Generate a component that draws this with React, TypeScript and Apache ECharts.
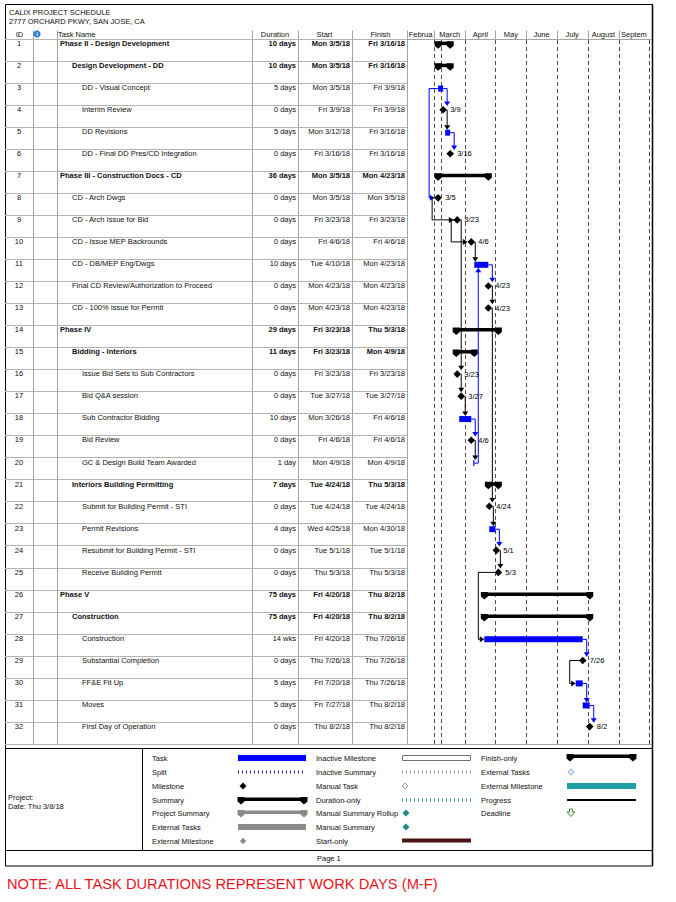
import React, { useEffect, useRef } from 'react';
import * as echarts from 'echarts';

const FONT = '"Liberation Sans", Arial, Helvetica, sans-serif';
const BLUE = '#0000ff';

// ---------- data ----------
const taskIds = [1, 2, 3, 4, 5, 6, 7, 8, 9, 10, 11, 12, 13, 14, 15, 16, 17, 18, 19, 20, 21, 22, 23, 24, 25, 26, 27, 28, 29, 30, 31, 32];
const taskNames = [
  'Phase II - Design Development',
  'Design Development - DD',
  'DD - Visual Concept',
  'Interim Review',
  'DD Revisions',
  'DD - Final DD Pres/CD Integration',
  'Phase III - Construction Docs - CD',
  'CD - Arch Dwgs',
  'CD - Arch Issue for Bid',
  'CD - Issue MEP Backrounds',
  'CD - DB/MEP Eng/Dwgs',
  'Final CD Review/Authorization to Proceed',
  'CD - 100% Issue for Permit',
  'Phase IV',
  'Bidding - Interiors',
  'Issue Bid Sets to Sub Contractors',
  'Bid Q&A session',
  'Sub Contractor Bidding',
  'Bid Review',
  'GC & Design Build Team Awarded',
  'Interiors Building Permitting',
  'Submit for Building Permit - STI',
  'Permit Revisions',
  'Resubmit for Building Permit - STI',
  'Receive Building Permit',
  'Phase V',
  'Construction',
  'Construction',
  'Substantial Completion',
  'FF&E Fit Up',
  'Moves',
  'First Day of Operation',
];
const durations = ['10 days', '10 days', '5 days', '0 days', '5 days', '0 days', '36 days', '0 days', '0 days', '0 days', '10 days', '0 days', '0 days', '29 days', '11 days', '0 days', '0 days', '10 days', '0 days', '1 day', '7 days', '0 days', '4 days', '0 days', '0 days', '75 days', '75 days', '14 wks', '0 days', '5 days', '5 days', '0 days'];
const starts = ['Mon 3/5/18', 'Mon 3/5/18', 'Mon 3/5/18', 'Fri 3/9/18', 'Mon 3/12/18', 'Fri 3/16/18', 'Mon 3/5/18', 'Mon 3/5/18', 'Fri 3/23/18', 'Fri 4/6/18', 'Tue 4/10/18', 'Mon 4/23/18', 'Mon 4/23/18', 'Fri 3/23/18', 'Fri 3/23/18', 'Fri 3/23/18', 'Tue 3/27/18', 'Mon 3/26/18', 'Fri 4/6/18', 'Mon 4/9/18', 'Tue 4/24/18', 'Tue 4/24/18', 'Wed 4/25/18', 'Tue 5/1/18', 'Thu 5/3/18', 'Fri 4/20/18', 'Fri 4/20/18', 'Fri 4/20/18', 'Thu 7/26/18', 'Fri 7/20/18', 'Fri 7/27/18', 'Thu 8/2/18'];
const finishes = ['Fri 3/16/18', 'Fri 3/16/18', 'Fri 3/9/18', 'Fri 3/9/18', 'Fri 3/16/18', 'Fri 3/16/18', 'Mon 4/23/18', 'Mon 3/5/18', 'Fri 3/23/18', 'Fri 4/6/18', 'Mon 4/23/18', 'Mon 4/23/18', 'Mon 4/23/18', 'Thu 5/3/18', 'Mon 4/9/18', 'Fri 3/23/18', 'Tue 3/27/18', 'Fri 4/6/18', 'Fri 4/6/18', 'Mon 4/9/18', 'Thu 5/3/18', 'Tue 4/24/18', 'Mon 4/30/18', 'Tue 5/1/18', 'Thu 5/3/18', 'Thu 8/2/18', 'Thu 8/2/18', 'Thu 7/26/18', 'Thu 7/26/18', 'Thu 7/26/18', 'Thu 8/2/18', 'Thu 8/2/18'];
const levels = [0, 1, 2, 2, 2, 2, 0, 1, 1, 1, 1, 1, 1, 0, 1, 2, 2, 2, 2, 2, 1, 2, 2, 2, 2, 0, 1, 2, 2, 2, 2, 2];
// S = summary, T = task, M = milestone
const kinds = ['S', 'S', 'T', 'M', 'T', 'M', 'S', 'M', 'M', 'M', 'T', 'M', 'M', 'S', 'S', 'M', 'M', 'T', 'M', 'T', 'S', 'M', 'T', 'M', 'M', 'S', 'S', 'T', 'M', 'T', 'T', 'M'];
const startMilestones = [8];

// dependency links: [from, to, route, critical]
const links: [number, number, string, boolean][] = [
  [3, 4, 'fs', true], [4, 5, 'fs', false], [5, 6, 'fs', true], [3, 8, 'ss', true],
  [8, 9, 'back', false], [9, 10, 'back', false], [9, 16, 'fs', false], [16, 17, 'fs', false],
  [17, 18, 'fs', false], [18, 19, 'fs', true], [19, 20, 'fs', false], [20, 11, 'up', true],
  [10, 11, 'fs', false], [11, 12, 'fs', true], [12, 13, 'fs', false], [13, 22, 'fs', false],
  [22, 23, 'fs', false], [23, 24, 'fs', true], [24, 25, 'fs', false], [25, 28, 'back', false],
  [28, 29, 'fs', true], [29, 30, 'back', false], [30, 31, 'fs', true], [31, 32, 'fs', true],
];

const monthNames = ['February', 'March', 'April', 'May', 'June', 'July', 'August', 'September'];
const monthStarts = ['2/1/18', '3/1/18', '4/1/18', '5/1/18', '6/1/18', '7/1/18', '8/1/18', '9/1/18', '10/1/18'];
const statusDate = '3/8/18';
const timelineMin = '2/2/18';
const timelineMax = '10/4/18';

const legendCol1 = ['Task', 'Split', 'Milestone', 'Summary', 'Project Summary', 'External Tasks', 'External Milestone'];
const legendCol2 = ['Inactive Milestone', 'Inactive Summary', 'Manual Task', 'Duration-only', 'Manual Summary Rollup', 'Manual Summary', 'Start-only'];
const legendCol3 = ['Finish-only', 'External Tasks', 'External Milestone', 'Progress', 'Deadline'];

// ---------- helpers ----------
const parseDay = (s: string) => {
  const parts = s.trim().split(' ');
  const [m, d, y] = parts[parts.length - 1].split('/').map(Number);
  return (Date.UTC(2000 + y, m - 1, d) - Date.UTC(2018, 2, 1)) / 86400000;
};
const startDay = starts.map(parseDay);
const endDay = finishes.map((f) => parseDay(f) + 1);
const msDay = taskIds.map((id, i) => (startMilestones.includes(id) ? startDay[i] : endDay[i]));
const msLabel = finishes.map((f) => f.split(' ')[1].split('/').slice(0, 2).join('/'));
const X_MIN = parseDay(timelineMin);
const X_MAX = parseDay(timelineMax);
const monthDays = monthStarts.map(parseDay);
const gridLineDays = [...monthDays.filter((d) => d > X_MIN && d < X_MAX), parseDay(statusDate)];

const ROW_TEXT = 0.2;
const ROW_MID = 0.21;
const ROW_BAR = 0.25;

const txt = (x: number, y: number, text: string, o: any = {}) => ({
  type: 'text',
  x,
  y,
  silent: true,
  style: {
    text,
    fill: o.fill || '#101010',
    fontSize: o.size || 7.5,
    fontFamily: FONT,
    fontWeight: o.bold ? 'bold' : 'normal',
    align: o.align || 'left',
    verticalAlign: 'middle',
  },
});
const line = (x1: number, y1: number, x2: number, y2: number, stroke = '#a4a4a4', w = 1, dash?: number[]) => ({
  type: 'line',
  silent: true,
  shape: { x1, y1, x2, y2 },
  style: { stroke, lineWidth: w, lineDash: dash },
});
const diamond = (x: number, y: number, r: number, fill: string, stroke?: string) => ({
  type: 'polygon',
  silent: true,
  shape: { points: [[x, y - r], [x + r, y], [x, y + r], [x - r, y]] },
  style: { fill, stroke: stroke || null, lineWidth: 1 },
});
const cap = (x: number, yc: number, fill: string) => ({
  type: 'polygon',
  silent: true,
  shape: { points: [[x - 3.5, yc - 2.5], [x + 3.5, yc - 2.5], [x + 3.5, yc + 2], [x, yc + 5], [x - 3.5, yc + 2]] },
  style: { fill },
});
const summaryBar = (x1: number, x2: number, yc: number, fill: string) => [
  { type: 'rect', silent: true, shape: { x: x1, y: yc - 2, width: x2 - x1, height: 3.5 }, style: { fill } },
  cap(x1, yc, fill),
  cap(x2, yc, fill),
];

function buildOption() {
  const tableRender = (params: any, api: any) => {
    const i = params.dataIndex;
    const y = api.coord([0, i + ROW_TEXT])[1];
    const X = (v: number) => api.coord([v, 0])[0];
    const bold = kinds[i] === 'S';
    const indent = [55, 67, 77][levels[i]];
    return {
      type: 'group',
      children: [
        txt(X(14), y, String(taskIds[i]), { align: 'center' }),
        txt(X(indent), y, taskNames[i], { bold }),
        txt(X(291), y, durations[i], { bold, align: 'right' }),
        txt(X(345), y, starts[i], { bold, align: 'right' }),
        txt(X(400), y, finishes[i], { bold, align: 'right' }),
      ],
    };
  };

  const geo = (api: any, i: number) => {
    const k = kinds[i];
    const yc = api.coord([0, i + ROW_MID])[1];
    const yb = api.coord([0, i + ROW_BAR])[1];
    const xs = api.coord([startDay[i], 0])[0];
    const xe = api.coord([endDay[i], 0])[0];
    const xm = api.coord([msDay[i], 0])[0];
    if (k === 'M') return { k, cy: yc, left: xm - 3.8, right: xm + 3.8, anchor: xm, start: xm, end: xm, top: yc - 3.8, bottom: yc + 3.8 };
    if (k === 'T') return { k, cy: yb, left: xs, right: xe, anchor: xe, start: xs, end: xe, top: yb - 3, bottom: yb + 3 };
    return { k, cy: yc, left: xs, right: xe, anchor: xe, start: xs, end: xe, top: yc - 2.5, bottom: yc + 5 };
  };

  const taskRender = (params: any, api: any) => {
    const i = params.dataIndex;
    const g = geo(api, i);
    const children: any[] = [];
    if (g.k === 'T') {
      children.push({ type: 'rect', shape: { x: g.left, y: g.cy - 3, width: Math.max(g.right - g.left, 1.2), height: 6 }, style: { fill: BLUE } });
    } else if (g.k === 'S') {
      children.push(...summaryBar(g.left, g.right, g.cy, '#000'));
    } else {
      children.push(diamond(g.anchor, g.cy, 3.8, '#000'));
      children.push(txt(g.anchor + 7, g.cy, msLabel[i], { fill: '#000' }));
    }
    return { type: 'group', children };
  };

  const linkRender = (params: any, api: any) => {
    const [a, b, route, crit] = links[params.dataIndex];
    const p = geo(api, a - 1);
    const s = geo(api, b - 1);
    const color = crit ? BLUE : '#000';
    let pts: number[][] = [];
    let arrow: number[][] = [];
    if (route === 'fs') {
      const xv = p.anchor + 4;
      pts = [[p.right, p.cy], [xv, p.cy], [xv, s.top - 4]];
      arrow = [[xv - 3, s.top - 4.5], [xv + 3, s.top - 4.5], [xv, s.top]];
    } else if (route === 'up') {
      const xv = p.anchor + 4;
      pts = [[p.right, p.cy], [xv, p.cy], [xv, s.bottom + 4]];
      arrow = [[xv - 3, s.bottom + 4.5], [xv + 3, s.bottom + 4.5], [xv, s.bottom]];
    } else {
      const x0 = route === 'ss' ? p.start : p.anchor;
      const xl = route === 'ss' ? x0 - 9 : Math.min(x0, s.start) - 6;
      pts = [[x0, p.cy], [xl, p.cy], [xl, s.cy], [s.left - 4, s.cy]];
      arrow = [[s.left - 4.5, s.cy - 3], [s.left - 4.5, s.cy + 3], [s.left, s.cy]];
    }
    return {
      type: 'group',
      children: [
        { type: 'polyline', shape: { points: pts }, style: { stroke: color, lineWidth: 1, fill: null } },
        { type: 'polygon', shape: { points: arrow }, style: { fill: color } },
      ],
    };
  };

  const gridLineRender = (params: any, api: any) => {
    const d = api.value(0);
    const x = Math.round(api.coord([d, 0])[0]) + 0.5;
    const y1 = api.coord([d, 0])[1];
    const y2 = api.coord([d, 32])[1];
    return line(x, y1 + 1, x, y2, '#505050', 1, [4, 3]);
  };

  const monthRender = (params: any, api: any) => {
    const i = params.dataIndex;
    const s0 = api.value(0);
    const s = Math.max(s0, X_MIN);
    const e = Math.min(api.value(1), X_MAX);
    const x1 = api.coord([s, 0])[0];
    const x2 = api.coord([e, 0])[0];
    const top = api.coord([s, 0])[1];
    const children: any[] = [
      {
        type: 'text',
        x: (x1 + x2) / 2,
        y: top - 4.5,
        style: {
          text: monthNames[i],
          width: x2 - x1,
          overflow: 'truncate',
          ellipsis: '',
          fill: '#101010',
          fontSize: 7.5,
          fontFamily: FONT,
          align: 'center',
          verticalAlign: 'middle',
        },
      },
    ];
    if (s0 > X_MIN) {
      const xx = Math.round(x1) + 0.5;
      children.push(line(xx, top - 8.5, xx, top, '#a4a4a4'));
    }
    return { type: 'group', children };
  };

  // ---------- static frame, header, legend ----------
  const g: any[] = [];
  g.push({ type: 'rect', silent: true, shape: { x: 5.5, y: 4.5, width: 647, height: 861.5 }, style: { fill: 'none', stroke: '#000', lineWidth: 1 } });
  g.push(line(652.5, 4.5, 652.5, 866, '#000', 1.5));
  g.push(txt(9, 12.5, 'CALIX PROJECT SCHEDULE'));
  g.push(txt(9, 21, '2777 ORCHARD PKWY, SAN JOSE, CA'));
  [33.5, 57.5, 252.5, 298.5, 352.5, 407.5].forEach((x) => g.push(line(x, 30.5, x, 744.5)));
  g.push(line(407, 39.5, 652, 39.5));
  g.push(line(407, 744.5, 652, 744.5));
  g.push(txt(19.5, 34.5, 'ID', { align: 'center' }));
  g.push({ type: 'circle', silent: true, shape: { cx: 37, cy: 34, r: 3.6 }, style: { fill: '#2f7fd8' } });
  g.push(txt(37, 34.3, 'i', { fill: '#fff', bold: true, size: 6, align: 'center' }));
  g.push(txt(58, 34.5, 'Task Name'));
  g.push(txt(275, 34.5, 'Duration', { align: 'center' }));
  g.push(txt(324.5, 34.5, 'Start', { align: 'center' }));
  g.push(txt(380.5, 34.5, 'Finish', { align: 'center' }));

  // legend box
  g.push(line(5, 748.5, 652.5, 748.5, '#000'));
  g.push(line(142.5, 748.5, 142.5, 850.5, '#000'));
  g.push(line(5, 850.5, 652.5, 850.5, '#000'));
  g.push(txt(8, 797, 'Project:'));
  g.push(txt(8, 806, 'Date: Thu 3/8/18'));
  g.push(txt(317, 858, 'Page 1'));

  const ly = [758, 772, 786, 800, 813, 827, 841];
  legendCol1.forEach((t, i) => g.push(txt(152, ly[i], t)));
  legendCol2.forEach((t, i) => g.push(txt(316, ly[i], t)));
  legendCol3.forEach((t, i) => g.push(txt(481, ly[i], t)));

  // column 1 symbols
  g.push({ type: 'rect', silent: true, shape: { x: 238, y: 755, width: 68, height: 6 }, style: { fill: BLUE } });
  g.push(line(238, 772, 306, 772, '#22229a', 3, [1, 3]));
  g.push(diamond(243, 786, 3.5, '#000'));
  summaryBar(241, 304, 799.5, '#000').forEach((e) => g.push(e));
  summaryBar(241, 304, 812.5, '#8a8a8a').forEach((e) => g.push(e));
  g.push({ type: 'rect', silent: true, shape: { x: 238, y: 824, width: 68, height: 6 }, style: { fill: '#8c8c8c' } });
  g.push(diamond(243, 841, 3.2, '#8a8a8a'));

  // column 2 symbols
  g.push({ type: 'rect', silent: true, shape: { x: 402.5, y: 755.5, width: 68, height: 5 }, style: { fill: '#fff', stroke: '#707070', lineWidth: 1 } });
  g.push(line(402, 772, 471, 772, '#9a9a9a', 3, [1, 3]));
  g.push(diamond(405, 786, 3, '#fff', '#9a9a9a'));
  g.push(line(402, 800, 471, 800, '#3a9ea6', 3, [1, 3]));
  g.push(diamond(406, 813, 3.5, '#1e8c8c'));
  g.push(diamond(406, 827, 3.5, '#1e8c8c'));
  g.push({ type: 'rect', silent: true, shape: { x: 402, y: 838.5, width: 69, height: 4 }, style: { fill: '#4a1414' } });

  // column 3 symbols
  summaryBar(570, 633, 756.5, '#000').forEach((e) => g.push(e));
  g.push(diamond(571, 772, 3.2, '#dce6f4', '#8eaad6'));
  g.push({ type: 'rect', silent: true, shape: { x: 567, y: 783, width: 69, height: 6 }, style: { fill: '#1fa0a6' } });
  g.push(line(567, 800, 636, 800, '#000', 2));
  g.push({
    type: 'polygon',
    silent: true,
    shape: { points: [[569.5, 809], [572.5, 809], [572.5, 812], [575, 812], [571, 816.5], [567, 812], [569.5, 812]] },
    style: { fill: '#fff', stroke: '#3a8a3a', lineWidth: 1 },
  });

  g.push(txt(7, 884, 'NOTE: ALL TASK DURATIONS REPRESENT WORK DAYS (M-F)', { fill: '#e8141c', size: 14.7 }));

  const GT = 39;
  const GH = 705;
  return {
    animation: false,
    backgroundColor: '#fff',
    grid: [
      { left: 5, top: GT, width: 402, height: GH, show: false, outerBoundsMode: 'none' },
      { left: 407, top: GT, width: 245, height: GH, show: false, outerBoundsMode: 'none' },
    ],
    xAxis: [
      { gridIndex: 0, type: 'value', min: 0, max: 402, show: false },
      { gridIndex: 1, type: 'value', min: X_MIN, max: X_MAX, show: false },
    ],
    yAxis: [
      {
        gridIndex: 0, type: 'value', min: 0, max: 32, interval: 1, inverse: true,
        axisLine: { show: false }, axisTick: { show: false }, axisLabel: { show: false },
        splitLine: { show: true, lineStyle: { color: '#b4b4b4', width: 1 } },
      },
      { gridIndex: 1, type: 'value', min: 0, max: 32, inverse: true, show: false },
    ],
    graphic: { elements: g },
    series: [
      {
        type: 'custom', name: 'table', xAxisIndex: 0, yAxisIndex: 0, z: 3,
        data: taskIds.map((_, i) => [0, i]), encode: { x: 0, y: 1 }, renderItem: tableRender,
      },
      {
        type: 'custom', name: 'gridLines', xAxisIndex: 1, yAxisIndex: 1, z: 1, clip: false,
        data: gridLineDays.map((d) => [d, 0]), encode: { x: 0, y: 1 }, renderItem: gridLineRender,
      },
      {
        type: 'custom', name: 'months', xAxisIndex: 1, yAxisIndex: 1, z: 2, clip: false,
        data: monthNames.map((_, i) => [monthDays[i], monthDays[i + 1]]), encode: { x: [0, 1] }, renderItem: monthRender,
      },
      {
        type: 'custom', name: 'links', xAxisIndex: 1, yAxisIndex: 1, z: 3, clip: false,
        data: links.map((l) => [startDay[l[0] - 1], l[0] - 1]), encode: { x: 0, y: 1 }, renderItem: linkRender,
      },
      {
        type: 'custom', name: 'tasks', xAxisIndex: 1, yAxisIndex: 1, z: 4, clip: false,
        data: taskIds.map((_, i) => [startDay[i], endDay[i], i, msDay[i]]), encode: { x: [0, 1, 3], y: 2 }, renderItem: taskRender,
      },
    ],
  };
}

export default function App() {
  const ref = useRef<HTMLDivElement>(null);
  useEffect(() => {
    const chart = echarts.init(ref.current as HTMLDivElement, null, { renderer: 'svg' });
    chart.setOption(buildOption() as any);
    return () => chart.dispose();
  }, []);
  return (
    <div
      ref={ref}
      style={{ position: 'absolute', left: 0, top: 0, width: 676, height: 902, background: '#fff' }}
    />
  );
}
